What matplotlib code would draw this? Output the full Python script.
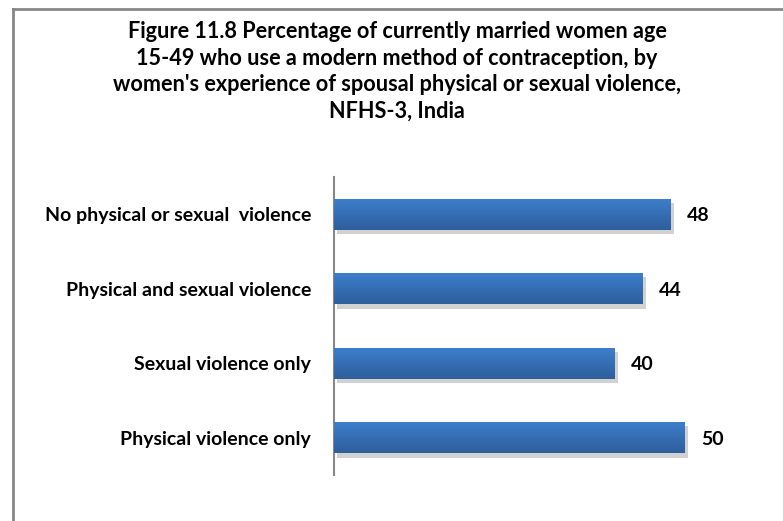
import matplotlib
matplotlib.use("Agg")
import matplotlib.pyplot as plt
import matplotlib.patheffects as pe
from matplotlib.lines import Line2D
import numpy as np

# data (top to bottom as shown)
categories = ["No physical or sexual  violence",
              "Physical and sexual violence",
              "Sexual violence only",
              "Physical violence only"]
values = [48, 44, 40, 50]

title = ("Figure 11.8 Percentage of currently married women age\n"
         "15-49 who use a modern method of contraception, by\n"
         "women's experience of spousal physical or sexual violence,\n"
         "NFHS-3, India")

plt.rcParams['font.family'] = ['Lato', 'DejaVu Sans']

W, H = 783, 521
fig = plt.figure(figsize=(W / 100, H / 100), dpi=100)

# chart area outline (top and left edges visible)
fig.add_artist(Line2D([12.5 / W, 1.0], [1 - 8.5 / H, 1 - 8.5 / H], color='#878787', lw=2))
fig.add_artist(Line2D([12.5 / W, 12.5 / W], [0.0, 1 - 8.5 / H], color='#878787', lw=2))

ax_left, ax_right = 334 / W, 758 / W
ax_top, ax_bottom = 1 - 177 / H, 1 - 475 / H
ax = fig.add_axes([ax_left, ax_bottom, ax_right - ax_left, ax_top - ax_bottom])

y = np.arange(len(categories))
bars = ax.barh(y, values, height=0.42, color='#3A78C2', zorder=2)

# gradient fill and soft shadow on each bar
grad = np.linspace(0, 1, 64).reshape(-1, 1)
cmap = matplotlib.colors.LinearSegmentedColormap.from_list("g", ["#3D7FCD", "#2E5E9C"])
for b in bars:
    b.set_path_effects([pe.SimplePatchShadow(offset=(2, -3), shadow_rgbFace='#999999', alpha=0.45), pe.Normal()])
    x0, y0, w, h = b.get_x(), b.get_y(), b.get_width(), b.get_height()
    im = ax.imshow(grad, cmap=cmap, aspect='auto', extent=(x0, x0 + w, y0 + h, y0),
                   zorder=3, interpolation='bilinear')
    im.set_clip_path(b)

for b, v in zip(bars, values):
    ax.text(b.get_width() + 2.3, b.get_y() + b.get_height() / 2, f"{v}",
            va='center_baseline', ha='left', fontsize=14, fontweight='bold', color='black')

ax.set_yticks(y)
ax.set_yticklabels(categories, fontsize=14, fontweight='bold')
for t in ax.get_yticklabels():
    t.set_verticalalignment('center_baseline')
ax.tick_params(axis='y', length=0, pad=16.5)
ax.set_xticks([])
for s in ['top', 'right', 'bottom']:
    ax.spines[s].set_visible(False)
ax.spines['left'].set_color('#888888')
ax.spines['left'].set_linewidth(1.5)
ax.set_ylim(len(categories) - 0.5, -0.5)
ax.set_xlim(0, 60.4)

fig.text(397 / W, 1 - 21 / H, title, ha='center', va='top', fontsize=15.6,
         fontweight='bold', linespacing=1.33)

fig.savefig("out.png", dpi=100)
